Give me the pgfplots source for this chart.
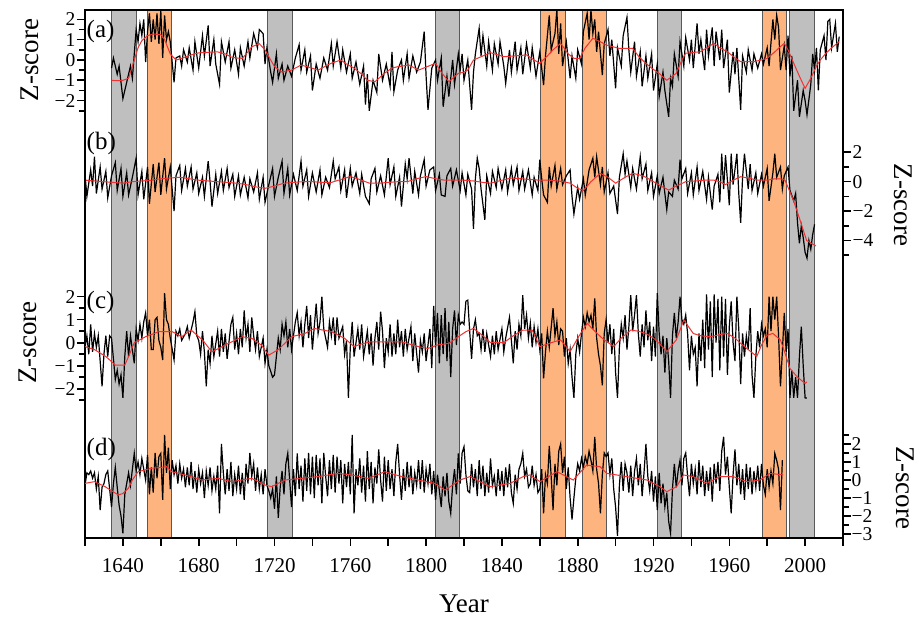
\documentclass[border=0pt]{standalone}
\usepackage{fontspec}
\setmainfont{Liberation Serif}
\usepackage{pgfplots}
\pgfplotsset{compat=1.18}
\definecolor{bandgray}{RGB}{191,191,191}
\definecolor{bandorange}{RGB}{253,180,127}
\definecolor{smoothred}{RGB}{240,50,50}
\newcommand{\plab}{\fontsize{25}{25}\selectfont}
\newcommand{\zlab}{\fontsize{27}{27}\selectfont}
\newcommand{\xtf}{\fontsize{21}{21}\selectfont}
\newcommand{\ytf}{\fontsize{19.5}{19.5}\selectfont}
\pgfplotsset{
  frame/.style={width=758pt,height=528pt,scale only axis,at={(0,0)},anchor=south west,xmin=1620,xmax=2020},
  panel/.style={frame, axis x line=none, clip=false,
    axis line style={line width=2.4pt,-},
    major tick length=8pt, minor tick length=6pt,
    tick style={line width=1.6pt,black}, minor tick style={line width=1.6pt,black},
    tick align=outside,
    yticklabel style={font=\ytf, inner sep=1.5pt},
  },
  dat/.style={black, line width=1.2pt},
  sm/.style={smoothred, line width=1pt},
  band/.style={draw=black!65, line width=0.9pt},
}
\begin{document}
\begin{tikzpicture}
\useasboundingbox (-85pt,-80pt) rectangle (833pt,538pt);
% ---------- frame, bands, x axis ----------
\begin{axis}[frame, ymin=0, ymax=1, ytick=\empty, axis on top,
  axis line style={line width=2.4pt},
  xtick={1640,1680,...,2000},
  xticklabels={{\xtf 1640},{\xtf 1680},{\xtf 1720},{\xtf 1760},{\xtf 1800},{\xtf 1840},{\xtf 1880},{\xtf 1920},{\xtf 1960},{\xtf 2000}},
  minor xtick={1620,1660,...,2020},
  tick align=outside, xtick pos=left,
  major tick length=8pt, minor tick length=8pt,
  tick style={line width=1.6pt,black}, minor tick style={line width=1.6pt,black},
  xticklabel style={font=\xtf, yshift=-9pt},
  xlabel={\zlab Year}, xlabel style={font=\zlab, yshift=-15pt},
]
\addplot[band, fill=bandgray] coordinates {(1634.1,0) (1634.1,1) (1646.9,1) (1646.9,0) (1634.1,0)};
\addplot[band, fill=bandorange] coordinates {(1652.9,0) (1652.9,1) (1665.8,1) (1665.8,0) (1652.9,0)};
\addplot[band, fill=bandgray] coordinates {(1716.4,0) (1716.4,1) (1729.4,1) (1729.4,0) (1716.4,0)};
\addplot[band, fill=bandgray] coordinates {(1804.7,0) (1804.7,1) (1817.5,1) (1817.5,0) (1804.7,0)};
\addplot[band, fill=bandorange] coordinates {(1860.5,0) (1860.5,1) (1873.3,1) (1873.3,0) (1860.5,0)};
\addplot[band, fill=bandorange] coordinates {(1882.4,0) (1882.4,1) (1895.1,1) (1895.1,0) (1882.4,0)};
\addplot[band, fill=bandgray] coordinates {(1922.0,0) (1922.0,1) (1934.9,1) (1934.9,0) (1922.0,0)};
\addplot[band, fill=bandorange] coordinates {(1977.6,0) (1977.6,1) (1989.9,1) (1989.9,0) (1977.6,0)};
\addplot[band, fill=bandgray] coordinates {(1991.7,0) (1991.7,1) (2004.7,1) (2004.7,0) (1991.7,0)};
\end{axis}
% ---------- (a) ----------
\begin{axis}[panel, axis y line*=left, ymin=-23.547, ymax=2.463,
  ytick={-2,-1,0,1,2}, yticklabels={{\ytf −2},{\ytf −1},{\ytf 0},{\ytf 1},{\ytf 2}}, minor ytick={-2.5,-1.5,-0.5,0.5,1.5}]
\addplot[dat] coordinates {(1634,-0.4) (1635,0.1) (1637,-0.7) (1638,-0.3) (1640,-1.9) (1642,-1.1) (1644,-0.3) (1645,-0.9) (1647,1.5) (1648,0.9) (1649,1.8) (1650,1.2) (1651,2.0) (1652,-0.1) (1653,1.4) (1654,2.3) (1655,0.9) (1656,2.0) (1657,1.0) (1658,2.3) (1659,0.8) (1660,2.46) (1661,0.1) (1662,2.2) (1663,1.0) (1664,1.4) (1665,0.9) (1667,-1.1) (1668,0.1) (1670,0.2) (1671,-0.3) (1672,0.5) (1674,-0.1) (1675,0.6) (1677,-0.5) (1678,0.9) (1680,-0.4) (1682,1.2) (1683,0.2) (1685,1.7) (1686,-0.3) (1688,1.0) (1689,-0.2) (1691,-1.2) (1692,0.9) (1694,-0.1) (1696,0.9) (1697,-0.4) (1699,0.5) (1701,-0.7) (1702,0.6) (1704,-0.3) (1706,0.9) (1707,0.1) (1709,1.3) (1711,0.6) (1712,1.5) (1714,1.3) (1715,-0.2) (1716,0.6) (1718,-0.6) (1719,-1.1) (1721,0.3) (1722,-0.9) (1724,-0.2) (1725,-1.0) (1727,-0.3) (1729,-0.8) (1731,0.1) (1733,0.75) (1734,-0.5) (1736,0.5) (1737,-0.6) (1739,0.2) (1740,-1.5) (1742,-0.2) (1744,-0.9) (1746,0.1) (1748,-0.5) (1750,0.8) (1751,-0.3) (1753,0.9) (1755,-0.4) (1756,0.5) (1758,-0.6) (1760,0.3) (1761,-0.9) (1763,-0.1) (1765,-1.2) (1767,-0.3) (1768,-2.2) (1769,-0.7) (1770,-2.5) (1772,-1.0) (1774,-1.6) (1775,0.3) (1777,-1.0) (1779,-0.2) (1781,-1.3) (1782,0.4) (1783,-1.56) (1785,-0.5) (1787,0.0) (1788,-1.0) (1790,0.3) (1791,-0.9) (1793,0.2) (1795,-0.6) (1797,-0.1) (1799,1.4) (1800,-0.8) (1801,-2.46) (1803,-0.4) (1805,0.0) (1806,-1.0) (1808,0.1) (1809,-2.3) (1811,-0.8) (1812,-1.8) (1814,0.0) (1815,-1.2) (1817,0.3) (1818,-0.5) (1819,0.3) (1820,-1.0) (1822,0.0) (1824,-2.46) (1825,-0.6) (1826,0.3) (1828,1.56) (1829,0.2) (1830,1.2) (1832,-0.3) (1833,0.9) (1835,-0.5) (1836,0.8) (1838,-0.2) (1839,0.9) (1841,-0.3) (1842,-1.15) (1844,0.5) (1845,-0.6) (1847,0.9) (1848,-0.5) (1850,0.6) (1851,-0.7) (1853,0.8) (1855,-0.4) (1856,0.6) (1858,-0.8) (1860,0.4) (1862,-1.23) (1863,0.2) (1865,2.2) (1866,0.5) (1868,1.3) (1869,2.46) (1870,0.3) (1871,1.8) (1872,-0.3) (1874,0.9) (1876,-0.9) (1877,0.2) (1879,-0.9) (1880,0.5) (1882,-0.2) (1883,1.4) (1885,2.3) (1886,1.0) (1887,2.46) (1888,1.3) (1889,2.0) (1890,0.4) (1891,1.4) (1893,-0.74) (1894,0.8) (1896,1.5) (1897,0.2) (1898,1.0) (1900,-1.4) (1901,0.6) (1903,-0.3) (1904,1.2) (1906,2.1) (1907,0.5) (1908,-0.6) (1910,0.9) (1911,-0.8) (1913,0.4) (1914,-1.3) (1916,0.2) (1917,-0.9) (1919,0.3) (1920,-1.5) (1922,-0.2) (1923,-1.8) (1925,-0.6) (1926,-1.5) (1928,-2.8) (1929,-0.9) (1930,-1.3) (1931,0.3) (1933,-0.8) (1934,0.9) (1936,-0.3) (1937,1.1) (1939,0.0) (1940,1.0) (1941,-0.4) (1943,1.8) (1944,0.3) (1945,1.0) (1947,-0.5) (1948,1.5) (1949,0.2) (1951,1.6) (1952,-0.3) (1953,1.4) (1955,0.0) (1956,1.5) (1957,-0.4) (1959,1.0) (1960,-1.6) (1962,0.4) (1963,-0.7) (1964,0.6) (1966,-2.46) (1967,0.2) (1969,-0.6) (1970,0.5) (1972,-0.5) (1973,0.3) (1975,-0.4) (1977,0.3) (1978,-0.2) (1980,0.6) (1981,-0.3) (1983,2.0) (1984,1.0) (1985,2.2) (1986,1.6) (1987,-0.5) (1989,0.7) (1990,-0.5) (1991,1.2) (1992,-0.8) (1993,0.2) (1994,-2.5) (1996,-1.0) (1997,-2.8) (1999,-1.5) (2000,-2.0) (2001,-2.7) (2003,-1.2) (2004,0.3) (2005,-0.5) (2006,0.6) (2007,-1.5) (2008,0.5) (2010,1.2) (2011,0.0) (2012,1.9) (2013,2.0) (2014,0.6) (2016,1.8) (2017,0.4) (2018,1.15)};
\addplot[sm] coordinates {(1634,-1.0) (1637,-1.02) (1640,-1.0) (1643,-0.9) (1645,-0.3) (1648,0.6) (1650,0.95) (1653,1.2) (1656,1.28) (1660,1.25) (1662,1.0) (1665,0.3) (1668,0.0) (1670,0.05) (1673,0.15) (1676,0.25) (1680,0.35) (1685,0.38) (1690,0.4) (1694,0.3) (1697,0.15) (1700,0.1) (1703,0.08) (1706,0.4) (1708,0.65) (1712,0.8) (1715,0.5) (1718,0.0) (1720,-0.33) (1724,-0.6) (1726,-0.55) (1729,-0.5) (1734,-0.25) (1738,-0.35) (1743,-0.5) (1747,-0.3) (1750,-0.16) (1755,0.0) (1758,-0.2) (1762,-0.4) (1766,-0.7) (1769,-1.0) (1773,-1.07) (1778,-0.66) (1782,-0.4) (1785,-0.33) (1791,-0.25) (1796,-0.5) (1800,-0.35) (1805,-0.16) (1808,-0.6) (1812,-1.07) (1817,-0.66) (1820,-0.6) (1822,-0.5) (1825,0.0) (1830,0.2) (1834,0.36) (1838,0.25) (1841,0.16) (1847,0.2) (1853,0.25) (1857,0.0) (1860,-0.16) (1864,0.2) (1867,0.5) (1871,0.82) (1875,0.3) (1878,0.08) (1881,0.08) (1884,0.6) (1888,1.07) (1892,0.9) (1895,0.74) (1902,0.57) (1909,0.57) (1912,0.2) (1915,-0.08) (1919,-0.4) (1923,-0.66) (1927,-1.0) (1932,-0.66) (1935,0.0) (1937,0.33) (1945,0.41) (1948,0.6) (1952,0.82) (1955,0.6) (1959,0.41) (1963,0.1) (1966,-0.08) (1973,-0.08) (1977,0.0) (1980,0.08) (1984,0.4) (1987,0.66) (1989,0.82) (1991,0.5) (1994,-0.16) (1997,-0.8) (2000,-1.4) (2003,-0.9) (2006,-0.3) (2008,0.0) (2011,0.33) (2014,0.6) (2018,0.9)};
\node[anchor=west, inner sep=0pt, font=\plab] at ([xshift=1.5pt]axis cs:1620,1.38) {(a)};
\node[rotate=90, font=\zlab] at ([xshift=-55pt]axis cs:1620,0) {Z-score};
\end{axis}
% ---------- (b) ----------
\begin{axis}[panel, axis y line*=right, ymin=-24.238, ymax=11.680,
  ytick={-4,-2,0,2}, yticklabels={{\ytf −4},{\ytf −2},{\ytf 0},{\ytf 2}}, minor ytick={-5,-3,-1,1}]
\addplot[dat] coordinates {(1620,0.5) (1621,-1.0) (1623,0.8) (1624,-0.3) (1625,1.7) (1626,-0.8) (1628,1.0) (1629,-0.5) (1631,0.7) (1632,-1.1) (1634,0.4) (1636,1.3) (1637,-0.6) (1639,0.9) (1640,-1.0) (1642,0.6) (1643,-0.9) (1645,0.3) (1647,1.6) (1648,-0.9) (1650,0.7) (1651,-1.2) (1653,1.0) (1654,-1.5) (1656,1.2) (1657,-0.7) (1659,1.3) (1660,-0.9) (1662,1.6) (1663,-0.5) (1665,1.0) (1667,-2.0) (1668,0.4) (1670,1.1) (1671,-0.6) (1673,0.9) (1674,-0.3) (1676,1.0) (1677,-0.5) (1679,0.6) (1680,-0.8) (1682,0.3) (1683,-1.0) (1685,1.4) (1686,0.0) (1687,-1.7) (1689,0.5) (1690,-0.8) (1692,0.7) (1693,-0.6) (1695,0.9) (1696,-0.4) (1698,0.5) (1699,-1.0) (1701,0.4) (1702,-0.9) (1704,0.3) (1706,-1.1) (1707,0.2) (1709,-0.7) (1711,0.6) (1712,-1.2) (1714,0.3) (1715,-1.4) (1717,-0.2) (1719,0.9) (1720,-1.0) (1722,0.3) (1724,1.4) (1725,-0.8) (1727,0.9) (1728,-0.9) (1730,0.5) (1732,-0.6) (1734,1.4) (1735,-0.3) (1737,0.8) (1738,-1.0) (1740,0.6) (1742,-0.7) (1744,0.8) (1745,-0.9) (1747,0.3) (1749,-0.4) (1751,1.4) (1752,0.2) (1754,1.0) (1755,-0.6) (1757,0.8) (1758,-1.1) (1760,0.9) (1761,-0.3) (1763,0.6) (1765,-0.8) (1766,0.5) (1768,-1.0) (1770,-1.5) (1771,0.2) (1773,0.9) (1774,-0.7) (1776,0.4) (1778,-0.9) (1780,1.6) (1781,-0.2) (1783,1.0) (1784,-1.0) (1786,0.3) (1787,-1.7) (1789,1.2) (1790,0.2) (1791,1.6) (1793,-0.8) (1794,0.7) (1796,-0.9) (1797,0.4) (1799,1.5) (1800,-0.3) (1802,0.8) (1804,1.0) (1805,-0.6) (1807,0.5) (1808,-0.9) (1810,-1.0) (1811,0.4) (1813,0.9) (1814,-0.3) (1816,0.8) (1818,-0.6) (1819,0.6) (1821,-0.9) (1822,0.5) (1824,-0.5) (1825,-3.2) (1826,0.2) (1827,1.6) (1828,0.9) (1829,-0.5) (1831,-2.6) (1832,0.4) (1834,-0.8) (1835,0.7) (1837,-0.4) (1838,0.9) (1840,-0.5) (1842,0.8) (1843,-0.7) (1845,0.9) (1846,-0.2) (1848,1.0) (1849,-0.6) (1851,0.7) (1852,-0.5) (1854,0.8) (1856,-0.9) (1857,0.3) (1859,-0.6) (1860,1.5) (1861,0.2) (1862,-0.9) (1864,-1.4) (1865,1.0) (1866,-0.3) (1868,1.1) (1869,-0.5) (1871,0.9) (1872,-0.2) (1874,0.4) (1876,0.8) (1877,-1.0) (1878,-2.2) (1880,-0.4) (1881,-1.2) (1883,0.2) (1884,-0.9) (1886,0.8) (1888,1.6) (1889,0.3) (1890,1.7) (1892,-0.2) (1893,1.0) (1894,-0.7) (1896,0.6) (1897,-0.8) (1899,-0.3) (1901,-2.2) (1902,0.3) (1904,1.9) (1905,0.5) (1906,1.4) (1908,-0.4) (1909,0.9) (1911,-0.5) (1913,1.7) (1914,0.2) (1916,1.2) (1917,-0.6) (1919,0.6) (1920,-1.0) (1922,0.4) (1923,-0.8) (1925,0.3) (1927,-1.9) (1928,-0.7) (1930,-1.0) (1931,0.1) (1933,-0.5) (1934,1.5) (1935,0.2) (1937,0.9) (1938,-0.8) (1940,0.6) (1941,-0.9) (1943,1.0) (1944,-0.6) (1946,0.7) (1948,-1.2) (1949,0.3) (1951,-1.9) (1952,-0.3) (1954,0.5) (1955,-1.4) (1956,1.9) (1957,-0.5) (1958,1.8) (1960,-1.6) (1961,1.9) (1962,-0.2) (1964,1.9) (1965,-0.8) (1966,-2.8) (1967,0.3) (1968,1.9) (1970,-0.5) (1971,1.2) (1972,-0.6) (1974,0.6) (1975,-0.8) (1977,0.5) (1978,-0.3) (1980,0.9) (1981,-1.3) (1983,0.6) (1984,1.9) (1985,0.3) (1987,1.0) (1988,-0.5) (1989,0.4) (1991,1.0) (1992,-0.6) (1994,-1.3) (1995,-0.8) (1996,-2.8) (1997,-4.2) (1998,-3.0) (1999,-3.8) (2000,-4.8) (2001,-5.2) (2002,-4.0) (2003,-4.6) (2004,-3.6) (2005,-2.9)};
\addplot[sm] coordinates {(1620,0.1) (1625,0.05) (1630,0.0) (1635,-0.05) (1640,-0.1) (1645,0.0) (1650,0.05) (1655,0.1) (1660,0.2) (1665,0.25) (1670,0.3) (1675,0.2) (1680,0.1) (1685,0.05) (1690,0.0) (1695,-0.05) (1700,-0.1) (1705,-0.2) (1710,-0.35) (1715,-0.45) (1720,-0.3) (1725,-0.1) (1730,-0.05) (1735,0.0) (1740,0.0) (1745,-0.05) (1750,-0.05) (1755,0.15) (1760,0.35) (1765,0.15) (1770,-0.1) (1775,-0.1) (1780,-0.05) (1785,0.0) (1790,0.0) (1795,0.2) (1800,0.35) (1805,0.2) (1810,0.1) (1815,0.1) (1820,0.1) (1825,0.05) (1830,-0.05) (1834,-0.1) (1840,0.1) (1845,0.25) (1850,0.2) (1855,0.15) (1860,0.1) (1865,0.1) (1870,0.05) (1876,-0.1) (1880,-0.45) (1883,-0.6) (1887,0.0) (1892,0.57) (1896,0.3) (1900,-0.1) (1905,0.3) (1909,0.57) (1913,0.45) (1916,0.3) (1920,0.0) (1924,-0.3) (1928,-0.57) (1932,-0.3) (1937,0.0) (1942,0.05) (1947,0.1) (1952,0.1) (1955,0.0) (1958,-0.2) (1962,0.1) (1966,0.34) (1970,0.25) (1975,0.1) (1980,0.1) (1984,0.2) (1987,0.2) (1989.4,0.1) (1993.8,-1.25) (1997.3,-2.6) (2000.8,-4.0) (2005.7,-4.37)};
\node[anchor=west, inner sep=0pt, font=\plab] at ([xshift=1.5pt]axis cs:1620,2.63) {(b)};
\node[rotate=-90, font=\zlab] at ([xshift=60pt]axis cs:2020,-1.58) {Z-score};
\end{axis}
% ---------- (c) ----------
\begin{axis}[panel, axis y line*=left, ymin=-8.491, ymax=14.465,
  ytick={-2,-1,0,1,2}, yticklabels={{\ytf −2},{\ytf −1},{\ytf 0},{\ytf 1},{\ytf 2}}, minor ytick={-2.5,-1.5,-0.5,0.5,1.5}]
\addplot[dat] coordinates {(1620,-0.2) (1621,0.3) (1622,-0.5) (1623,0.8) (1624,-0.4) (1625,0.4) (1626,-0.2) (1627,0.3) (1629,-1.9) (1630,-0.5) (1631,0.3) (1632,-0.6) (1633,0.3) (1634,0.2) (1636,-1.6) (1637,-1.2) (1638,-1.8) (1639,-1.4) (1640,-2.4) (1641,-0.6) (1642,0.5) (1643,-0.6) (1644,0.3) (1646,-0.9) (1647,0.6) (1648,0.1) (1649,0.8) (1650,0.2) (1651,0.9) (1652,1.3) (1653,0.3) (1654,1.0) (1655,-0.3) (1656,-0.3) (1657,1.0) (1658,1.1) (1659,0.1) (1660,-0.2) (1661,-0.75) (1662,2.15) (1663,1.0) (1664,0.8) (1665,0.2) (1667,-0.75) (1668,0.5) (1669,0.3) (1670,0.6) (1671,0.1) (1673,0.4) (1674,0.7) (1675,0.2) (1677,0.9) (1678,1.35) (1679,0.3) (1680,0.1) (1681,-0.5) (1682,0.5) (1683,-0.4) (1684,-1.9) (1685,-0.3) (1686,-0.9) (1687,0.3) (1688,-0.6) (1690,0.5) (1691,-0.6) (1692,0.6) (1693,-0.4) (1694,0.4) (1695,-0.7) (1697,0.8) (1698,1.1) (1699,-0.3) (1700,0.4) (1701,-0.5) (1702,0.6) (1703,-0.2) (1704,1.4) (1705,0.2) (1706,0.8) (1707,-0.4) (1708,1.1) (1709,0.3) (1710,-0.3) (1711,0.5) (1712,-0.6) (1714,0.2) (1715,-0.9) (1716,-0.3) (1717,-1.0) (1719,-1.5) (1720,-1.4) (1721,-0.6) (1722,0.2) (1723,-0.3) (1724,0.8) (1725,0.3) (1726,0.9) (1727,-0.2) (1728,0.6) (1729,-0.3) (1731,0.9) (1732,1.3) (1733,0.3) (1734,0.9) (1735,-0.2) (1736,0.8) (1737,1.6) (1738,0.2) (1739,1.2) (1740,-0.3) (1742,1.7) (1743,0.4) (1744,0.9) (1745,2.0) (1746,0.6) (1747,0.2) (1748,-0.2) (1749,0.9) (1750,0.3) (1751,1.1) (1752,-0.1) (1753,1.1) (1754,0.2) (1756,0.7) (1757,-0.5) (1758,0.1) (1759,-2.4) (1760,-0.2) (1761,0.9) (1762,-0.6) (1764,0.6) (1765,-0.3) (1766,0.8) (1767,-0.6) (1769,0.5) (1770,-0.5) (1771,0.4) (1772,-1.0) (1773,0.2) (1774,0.9) (1775,-0.3) (1776,1.35) (1777,0.5) (1778,-1.1) (1779,0.2) (1780,-0.4) (1781,0.8) (1782,-0.6) (1783,0.4) (1784,-0.5) (1785,1.0) (1786,-0.2) (1787,0.5) (1788,-0.6) (1789,0.6) (1790,-0.3) (1792,0.7) (1793,-0.8) (1794,0.4) (1796,-1.3) (1797,0.1) (1798,-0.4) (1799,0.4) (1800,-0.8) (1802,0.6) (1803,-1.1) (1804,1.6) (1805,-0.2) (1806,1.3) (1807,-0.9) (1808,1.2) (1809,-0.5) (1810,1.5) (1811,-0.8) (1812,0.9) (1813,-1.5) (1814,0.6) (1815,1.4) (1816,-0.1) (1817,1.2) (1818,0.8) (1819,0.9) (1820,0.8) (1821,1.8) (1822,1.85) (1823,0.5) (1824,-0.7) (1825,0.6) (1826,1.0) (1827,0.3) (1828,0.4) (1829,-0.3) (1830,0.6) (1831,-0.4) (1832,0.4) (1834,-0.6) (1835,0.3) (1836,-0.5) (1837,0.5) (1838,-0.3) (1840,0.6) (1841,-0.4) (1842,0.2) (1844,1.1) (1845,0.1) (1846,-0.9) (1847,0.5) (1848,-0.3) (1849,0.8) (1850,0.3) (1851,2.07) (1852,0.6) (1853,1.2) (1854,0.2) (1855,0.85) (1856,-0.2) (1857,0.7) (1858,0.0) (1859,0.6) (1860,-0.3) (1861,0.4) (1862,-1.55) (1863,-0.4) (1864,0.5) (1865,-0.2) (1867,1.5) (1868,0.3) (1869,0.9) (1870,-0.1) (1871,0.6) (1872,0.5) (1873,-0.6) (1874,0.2) (1875,-0.9) (1876,-0.3) (1877,-1.5) (1878,-2.4) (1879,-0.5) (1880,0.2) (1881,-0.4) (1882,0.4) (1883,1.1) (1884,0.7) (1885,1.3) (1886,0.9) (1887,1.2) (1888,0.6) (1889,1.93) (1890,0.2) (1891,-0.5) (1892,-1.0) (1893,-1.85) (1894,0.4) (1895,1.0) (1896,0.0) (1897,0.8) (1898,-0.5) (1899,0.6) (1900,-1.3) (1901,-2.4) (1902,-0.2) (1903,0.8) (1904,0.2) (1905,1.2) (1906,-0.3) (1907,0.7) (1908,2.07) (1909,0.5) (1910,1.2) (1911,2.07) (1912,0.4) (1913,-0.6) (1914,0.8) (1915,-0.2) (1916,1.4) (1917,0.1) (1918,0.9) (1919,-0.8) (1920,0.7) (1921,-0.6) (1922,2.15) (1923,0.4) (1924,-0.5) (1925,0.3) (1926,-1.3) (1927,0.2) (1928,-0.8) (1929,-2.4) (1930,0.3) (1931,1.3) (1932,0.2) (1933,0.9) (1934,2.0) (1935,1.0) (1936,0.8) (1937,1.2) (1938,0.4) (1939,-1.2) (1940,0.3) (1941,-0.5) (1942,-0.2) (1943,-1.9) (1944,0.4) (1945,-0.8) (1946,1.0) (1947,-1.1) (1948,2.1) (1949,-0.3) (1950,1.8) (1951,-1.5) (1952,2.1) (1953,0.0) (1954,1.9) (1955,-1.2) (1956,2.0) (1957,-0.6) (1958,1.9) (1959,-1.4) (1960,0.7) (1961,1.8) (1962,0.0) (1963,-0.8) (1964,2.0) (1965,0.6) (1966,-1.8) (1967,0.4) (1968,-0.6) (1969,0.3) (1970,-0.3) (1971,1.5) (1972,-1.4) (1973,-2.4) (1974,-0.6) (1975,0.5) (1976,-0.2) (1977,0.8) (1978,0.3) (1979,0.6) (1980,-0.2) (1981,2.0) (1982,0.5) (1983,2.0) (1984,1.0) (1985,2.0) (1986,0.3) (1987,-1.9) (1988,-0.4) (1989,1.3) (1990,-0.4) (1991,0.6) (1992,-2.4) (1993,-1.2) (1994,-2.4) (1995,-1.5) (1996,-2.4) (1997,-0.6) (1998,0.7) (1999,-1.0) (2000,-2.4) (2001,-2.4)};
\addplot[sm] coordinates {(1620,-0.17) (1625,-0.3) (1631,-0.6) (1636,-0.97) (1641,-0.97) (1643,-0.6) (1646,0.0) (1652,0.26) (1659,0.48) (1666,0.48) (1671,0.26) (1676,0.55) (1682,0.12) (1687,-0.4) (1694,-0.1) (1703,0.26) (1708,0.19) (1713,-0.1) (1717,-0.54) (1722,-0.3) (1729,0.26) (1736,0.4) (1741,0.62) (1750,0.48) (1757,0.19) (1762,-0.17) (1766,-0.05) (1771,0.04) (1778,0.04) (1787,0.04) (1796,-0.17) (1801,-0.25) (1806,-0.1) (1812,-0.03) (1817,0.26) (1821,0.48) (1825,0.62) (1830,0.3) (1834,0.0) (1841,0.0) (1846,0.3) (1851,0.55) (1856,0.55) (1860,-0.17) (1866,0.0) (1871,0.12) (1876,-0.39) (1880,0.2) (1885,0.84) (1889,0.5) (1893,0.19) (1899,-0.17) (1903,0.2) (1908,0.55) (1912,0.5) (1916,0.4) (1920,0.2) (1923,-0.03) (1927,-0.39) (1932,0.12) (1936,0.99) (1941,0.4) (1945,0.3) (1950,0.26) (1955,0.35) (1959,0.4) (1963,0.2) (1966,-0.03) (1970,-0.3) (1974.5,-0.6) (1977,-0.1) (1980,0.33) (1983,0.4) (1987,0.12) (1990,-0.6) (1992,-1.12) (1996,-1.5) (2000,-1.77) (2001,-1.7)};
\node[anchor=west, inner sep=0pt, font=\plab] at ([xshift=1.5pt]axis cs:1620,1.77) {(c)};
\node[rotate=90, font=\zlab] at ([xshift=-57pt]axis cs:1620,0) {Z-score};
\end{axis}
% ---------- (d) ----------
\begin{axis}[panel, axis y line*=right, ymin=-3.222, ymax=26.111,
  ytick={-3,-2,-1,0,1,2}, yticklabels={{\ytf −3},{\ytf −2},{\ytf −1},{\ytf 0},{\ytf 1},{\ytf 2}}, minor ytick={-2.5,-1.5,-0.5,0.5,1.5,2.5},
  yticklabel style={inner sep=0.5pt}]
\addplot[dat] coordinates {(1620,-0.3) (1621,0.4) (1622,0.3) (1623,0.5) (1624,0.1) (1625,0.4) (1626,-0.5) (1627,0.2) (1628,-1.67) (1629,-0.4) (1630,-0.2) (1631,0.3) (1632,0.5) (1633,-0.5) (1634,-1.5) (1635,-0.2) (1636,0.7) (1637,-0.4) (1638,-1.4) (1639,-2.0) (1640,-2.96) (1641,-0.8) (1642,-0.2) (1643,0.4) (1644,-0.3) (1646,1.48) (1647,0.5) (1648,1.0) (1649,0.3) (1650,1.2) (1651,0.6) (1652,0.0) (1653,1.4) (1654,-0.8) (1655,0.7) (1656,-0.7) (1657,1.5) (1658,0.1) (1659,1.3) (1660,1.48) (1661,-1.1) (1662,2.5) (1663,0.4) (1664,1.8) (1665,-0.5) (1666,1.1) (1667,0.3) (1668,0.8) (1669,-0.2) (1670,0.9) (1671,0.1) (1672,0.6) (1673,-0.4) (1674,0.7) (1675,-0.3) (1676,1.0) (1677,-0.5) (1678,0.5) (1679,-0.7) (1680,0.6) (1681,-0.2) (1682,0.4) (1683,-1.0) (1684,0.5) (1685,-0.3) (1686,0.7) (1687,-0.6) (1688,0.2) (1689,-0.5) (1690,0.8) (1691,-1.85) (1692,2.0) (1693,0.4) (1694,-0.8) (1695,0.6) (1696,-0.6) (1697,1.0) (1698,-0.9) (1699,0.3) (1700,-0.5) (1701,0.8) (1702,-0.8) (1703,0.4) (1704,-1.1) (1705,0.9) (1706,-0.2) (1707,1.5) (1708,0.2) (1709,0.9) (1710,-0.6) (1711,0.7) (1712,-0.5) (1713,0.3) (1714,-0.8) (1715,0.6) (1716,-0.3) (1717,-0.6) (1718,-1.0) (1719,-0.5) (1720,-1.6) (1721,0.2) (1722,-2.1) (1723,-0.4) (1724,0.5) (1725,-0.8) (1726,0.9) (1727,1.48) (1728,0.0) (1729,-1.5) (1730,0.6) (1731,-0.9) (1732,1.48) (1733,-0.5) (1734,0.8) (1735,-1.2) (1736,1.2) (1737,-0.6) (1738,1.5) (1739,-0.8) (1740,1.3) (1741,-1.0) (1742,1.4) (1743,-0.3) (1744,1.2) (1745,-1.3) (1746,1.5) (1747,0.2) (1748,-0.9) (1749,1.1) (1750,-0.5) (1751,1.4) (1752,-0.7) (1753,1.3) (1754,-0.2) (1755,1.1) (1756,-1.3) (1757,0.9) (1758,-0.4) (1759,1.0) (1760,-0.8) (1761,2.5) (1762,-1.85) (1763,0.6) (1764,-0.3) (1765,1.2) (1766,-0.7) (1767,0.8) (1768,-1.2) (1769,1.6) (1770,-0.5) (1771,1.0) (1772,-1.3) (1773,0.7) (1774,-0.2) (1775,1.7) (1776,0.0) (1777,-1.2) (1778,1.3) (1779,-0.6) (1780,1.1) (1781,-0.5) (1782,0.6) (1783,-0.9) (1784,1.0) (1785,2.0) (1786,0.3) (1787,-1.1) (1788,0.6) (1789,-0.6) (1790,1.0) (1791,-0.4) (1792,0.8) (1793,-0.8) (1794,0.4) (1795,-0.3) (1796,1.1) (1797,-0.5) (1798,1.1) (1799,-0.7) (1800,0.6) (1801,-0.2) (1802,0.9) (1803,-0.8) (1804,0.5) (1805,-1.1) (1806,0.3) (1807,-0.6) (1808,-1.5) (1809,0.2) (1810,-0.9) (1811,0.4) (1812,-1.2) (1813,-1.85) (1814,-0.3) (1815,0.6) (1816,-0.8) (1817,1.48) (1818,-0.2) (1819,1.5) (1820,1.85) (1821,0.3) (1822,-0.6) (1823,-0.7) (1824,0.9) (1825,-0.4) (1826,0.6) (1827,-0.9) (1828,1.1) (1829,-0.5) (1830,0.8) (1831,-0.9) (1832,0.4) (1833,-0.7) (1834,1.2) (1835,-0.3) (1836,0.2) (1837,-0.9) (1838,0.6) (1839,-0.6) (1840,0.5) (1841,-0.9) (1842,0.7) (1843,-0.4) (1844,0.9) (1845,-0.7) (1846,-1.3) (1847,0.3) (1848,-0.5) (1849,0.6) (1850,0.9) (1851,1.48) (1852,0.2) (1853,0.6) (1854,-0.4) (1855,-0.2) (1856,0.8) (1857,-0.3) (1858,0.3) (1859,-0.7) (1860,-0.5) (1861,0.6) (1862,-1.85) (1863,0.3) (1864,-0.2) (1865,1.9) (1866,0.2) (1867,-1.67) (1868,0.9) (1869,-0.3) (1870,1.6) (1871,2.0) (1872,0.4) (1873,1.3) (1874,-0.5) (1875,0.7) (1876,-1.0) (1877,-2.2) (1878,-1.0) (1879,0.1) (1880,0.9) (1881,0.5) (1882,1.2) (1883,0.7) (1884,1.3) (1885,0.9) (1886,1.6) (1887,1.1) (1888,0.5) (1889,2.4) (1890,0.6) (1891,-0.2) (1892,-1.85) (1893,0.3) (1894,1.5) (1895,1.3) (1896,1.5) (1897,0.3) (1898,1.2) (1899,-0.5) (1900,-1.5) (1901,-3.1) (1902,-0.3) (1903,1.0) (1904,-0.6) (1905,0.9) (1906,0.4) (1907,-0.7) (1908,0.8) (1909,-0.9) (1910,0.5) (1911,1.2) (1912,-0.3) (1913,0.9) (1914,-0.9) (1915,0.4) (1916,2.0) (1917,0.2) (1918,-0.6) (1919,0.5) (1920,-1.2) (1921,0.2) (1922,-1.67) (1923,0.4) (1924,-1.3) (1925,-0.2) (1926,-1.5) (1927,-0.7) (1928,-2.3) (1929,-2.96) (1930,-0.5) (1931,0.9) (1932,-0.4) (1933,0.5) (1934,1.1) (1935,-0.3) (1936,1.2) (1937,1.5) (1938,0.2) (1939,-0.9) (1940,0.9) (1941,-0.2) (1942,0.6) (1943,-0.8) (1944,1.1) (1945,-0.4) (1946,0.8) (1947,-0.9) (1948,0.5) (1949,-0.6) (1950,0.7) (1951,-1.2) (1952,0.9) (1953,-0.2) (1954,1.0) (1955,-0.6) (1956,1.6) (1957,2.4) (1958,0.3) (1959,1.3) (1960,-0.4) (1961,-1.85) (1962,0.3) (1963,1.7) (1964,-0.3) (1965,0.9) (1966,-0.8) (1967,0.6) (1968,-1.1) (1969,0.9) (1970,-0.5) (1971,0.7) (1972,-0.8) (1973,0.5) (1974,-0.4) (1975,0.8) (1976,-0.6) (1977,0.9) (1978,-0.3) (1979,-0.8) (1980,0.6) (1981,-0.4) (1982,0.5) (1983,-0.2) (1984,1.48) (1985,1.1) (1986,0.6) (1987,-1.67) (1988,1.1)};
\addplot[sm] coordinates {(1620,-0.19) (1625,-0.09) (1630.6,-0.37) (1634,-0.6) (1637.6,-0.83) (1640,-0.75) (1642.9,-0.46) (1645,0.0) (1648,0.46) (1655,0.65) (1660,0.7) (1663,0.74) (1665.7,0.46) (1672.8,0.28) (1677,0.15) (1681.6,0.0) (1690.4,0.09) (1697.4,-0.09) (1708,0.09) (1715,-0.28) (1718.5,-0.37) (1725.5,0.0) (1734.3,0.09) (1743.1,0.19) (1753.7,0.37) (1760.7,0.28) (1769.5,0.09) (1778.3,0.46) (1787.1,0.19) (1795.9,0.0) (1804.7,-0.19) (1810,-0.56) (1815.3,-0.19) (1817.9,0.0) (1823.2,0.19) (1828.5,-0.09) (1833.7,-0.37) (1839,-0.28) (1844.3,-0.19) (1851.3,0.19) (1854.8,0.28) (1860.1,-0.09) (1869,0.46) (1877.7,0.0) (1884.7,0.83) (1891.8,0.74) (1895.3,0.37) (1905.9,0.19) (1916.4,0.0) (1923.4,-0.37) (1927,-0.65) (1932.2,-0.37) (1935.8,0.28) (1941,0.19) (1948.1,-0.19) (1955.1,0.19) (1962.1,0.19) (1969.2,-0.09) (1976.2,0.0) (1981.5,0.37) (1988.5,0.28)};
\node[anchor=west, inner sep=0pt, font=\plab] at ([xshift=1.5pt]axis cs:1620,1.67) {(d)};
\node[rotate=-90, font=\zlab] at ([xshift=62pt]axis cs:2020,-0.44) {Z-score};
\end{axis}
\end{tikzpicture}
\end{document}
